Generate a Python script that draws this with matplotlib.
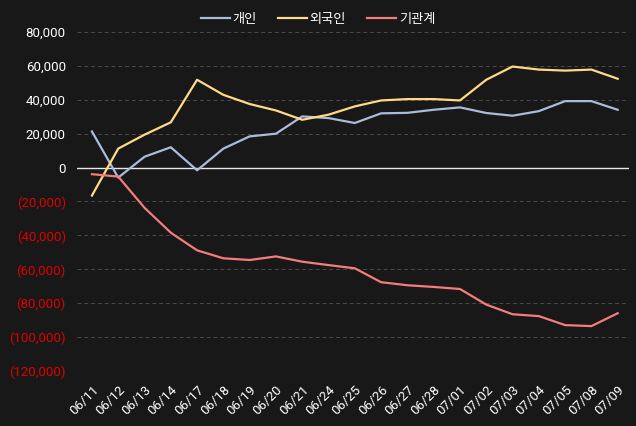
import matplotlib.pyplot as plt
import matplotlib.ticker as mticker

# trading dates and net buying per investor group
dates = ["06/11", "06/12", "06/13", "06/14", "06/17", "06/18", "06/19",
         "06/20", "06/21", "06/24", "06/25", "06/26", "06/27", "06/28",
         "07/01", "07/02", "07/03", "07/04", "07/05", "07/08", "07/09"]

individual = [21300, -5900, 6400, 12000, -1600, 11200, 18400, 20000, 30200,
              29200, 26300, 32000, 32300, 34100, 35500, 32200, 30600, 33300,
              39200, 39200, 34100]
foreign = [-16500, 11200, 19400, 26700, 51800, 42900, 37500, 33700, 28200,
           31200, 36100, 39600, 40400, 40400, 39600, 51800, 59600, 57800,
           57200, 57800, 52400]
institution = [-3900, -5300, -23700, -38400, -48800, -53500, -54500, -52400,
               -55500, -57500, -59400, -67600, -69400, -70400, -71600, -80800,
               -86500, -87600, -92900, -93500, -85900]

series = [("개인", individual, "#aabbdc"),
          ("외국인", foreign, "#ffd986"),
          ("기관계", institution, "#f47c7c")]

plt.rcParams['font.family'] = ['Noto Sans CJK KR', 'DejaVu Sans']
bg = "#181818"

fig = plt.figure(figsize=(6.36, 4.26), dpi=100, facecolor=bg)
ax = fig.add_axes([0.121, 0.129, 0.868, 0.796], facecolor=bg)

x = range(len(dates))
for name, vals, col in series:
    ax.plot(x, vals, color=col, lw=1.6, label=name)

ax.set_xlim(-0.57, 20.43)
ax.set_ylim(-120000, 80000)
ax.set_yticks(range(-120000, 80001, 20000))
ax.axhline(0, color="#e8e8e8", lw=1, zorder=1)
ax.grid(axis="y", color="#4a4a4a", ls=(0, (4, 3)), lw=0.7)
ax.set_axisbelow(True)


def fmt(v, pos):
    if v < 0:
        return "({:,.0f})".format(-v)
    return "{:,.0f}".format(v)


ax.yaxis.set_major_formatter(mticker.FuncFormatter(fmt))
for lbl, val in zip(ax.get_yticklabels(), ax.get_yticks()):
    lbl.set_color("#e00000" if val < 0 else "white")
    lbl.set_family("Roboto")

ax.set_xticks(list(x))
ax.set_xticklabels(dates, rotation=45, ha="right", rotation_mode="anchor",
                   color="white", family="Roboto")
ax.tick_params(axis="both", length=0, labelsize=9.5)
ax.tick_params(axis="x", pad=9)
ax.tick_params(axis="y", pad=8)
for s in ax.spines.values():
    s.set_visible(False)

fig.legend(loc="center", bbox_to_anchor=(0.5, 0.955), ncol=3, frameon=False,
           fontsize=9.5, labelcolor="white", handlelength=2.2,
           handletextpad=0.2, columnspacing=1.6)

fig.savefig("out.png", dpi=100, facecolor=bg)
